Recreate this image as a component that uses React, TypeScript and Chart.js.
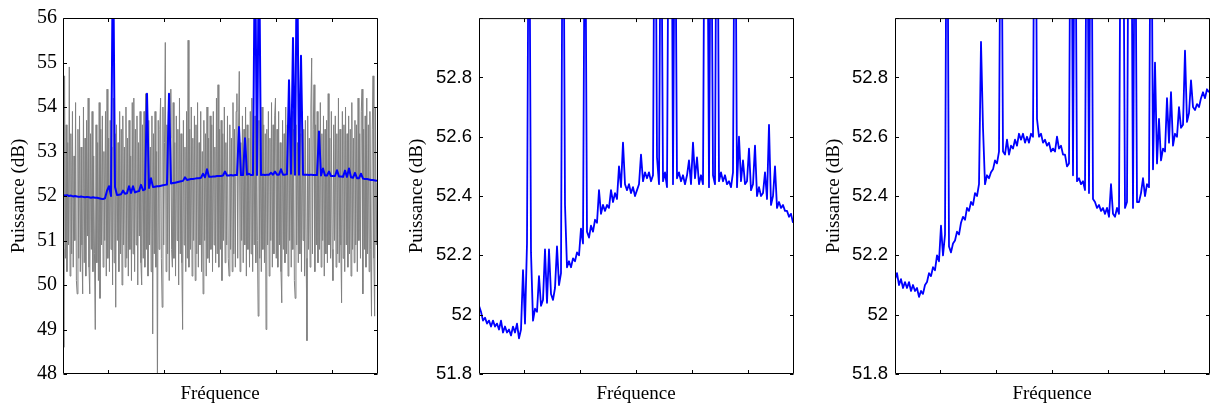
import React, { useEffect, useRef } from 'react';
import { Chart, registerables } from 'chart.js';

Chart.register(...registerables);

// Frequency axis (no labels; inward tick marks only)
const X_MIN = 0.2;
const X_MAX = 5.807;
const X_TICKS = [1, 2, 3, 4, 5];

// Panel 1: raw periodogram (gray)
const P1_GRAY = [
  50.8, 48.6, 54.7, 50.6, 53.6, 50.3, 53.2, 50.9, 54.9, 50.2,
  53.4, 50.7, 53.9, 50.4, 52.9, 51.0, 54.1, 50.1, 49.8, 53.5,
  50.6, 53.8, 50.3, 53.1, 50.9, 49.8, 54.0, 50.5, 53.3, 50.2,
  53.7, 51.1, 54.2, 50.4, 49.8, 53.4, 50.8, 53.9, 50.3, 52.9,
  50.7, 49.0, 53.6, 50.5, 53.2, 50.1, 54.1, 49.7, 53.5, 50.9,
  53.8, 50.4, 53.0, 51.0, 53.9, 50.2, 54.4, 50.6, 53.3, 50.3,
  53.7, 50.8, 53.1, 50.0, 54.2, 50.5, 53.4, 49.5, 53.6, 51.0,
  53.2, 50.3, 53.9, 50.7, 53.5, 50.0, 53.8, 50.9, 53.1, 50.4,
  54.0, 50.6, 53.3, 50.2, 53.7, 50.8, 52.9, 50.1, 54.1, 50.7,
  54.2, 50.3, 53.5, 50.9, 53.8, 50.0, 53.2, 51.1, 53.9, 50.5,
  50.0, 53.6, 50.6, 53.9, 50.4, 54.3, 50.8, 53.3, 50.2, 53.7,
  50.9, 53.1, 50.3, 53.8, 48.9, 53.4, 50.7, 53.9, 50.4, 53.0,
  47.5, 53.7, 50.8, 53.5, 54.2, 50.6, 49.5, 54.0, 50.9, 53.2,
  55.45, 50.3, 53.6, 50.7, 53.9, 50.1, 53.3, 54.4, 50.8, 50.4,
  54.1, 50.6, 53.2, 50.2, 53.8, 51.0, 53.5, 50.0, 54.2, 50.7,
  53.4, 50.5, 49.0, 53.7, 50.9, 53.1, 50.3, 53.9, 50.6, 55.5,
  50.4, 53.5, 50.8, 54.0, 50.2, 53.3, 51.0, 53.8, 50.1, 53.6,
  50.7, 54.1, 50.4, 53.2, 50.9, 53.9, 50.3, 53.0, 49.8, 53.7,
  51.0, 53.4, 50.2, 54.0, 50.6, 53.3, 50.5, 53.8, 50.8, 53.6,
  50.3, 53.9, 50.9, 53.1, 50.5, 54.2, 50.7, 54.5, 50.4, 53.5,
  50.8, 53.7, 50.1, 53.4, 51.0, 54.0, 50.5, 53.2, 50.9, 53.8,
  50.6, 50.2, 53.6, 50.8, 53.3, 50.3, 54.1, 50.7, 53.5, 50.4,
  53.9, 54.3, 50.6, 53.4, 54.8, 50.3, 53.2, 51.0, 53.8, 50.5,
  53.5, 50.9, 54.0, 50.2, 53.6, 50.8, 53.3, 50.4, 53.9, 50.7,
  54.2, 50.3, 53.4, 50.9, 53.8, 50.5, 53.5, 51.0, 49.3, 53.7,
  50.6, 53.2, 50.3, 54.0, 50.8, 53.6, 50.5, 53.4, 49.0, 53.5,
  50.9, 53.9, 50.2, 53.3, 51.0, 54.1, 50.4, 53.6, 50.7, 53.8,
  54.2, 50.6, 53.5, 50.4, 53.9, 50.9, 53.2, 50.3, 49.6, 53.7,
  50.8, 53.4, 50.5, 54.0, 50.7, 53.6, 50.2, 53.8, 51.0, 53.3,
  50.4, 53.9, 50.8, 53.5, 50.1, 49.7, 53.6, 50.9, 53.2, 50.5,
  54.2, 50.7, 53.4, 50.3, 53.9, 51.0, 53.5, 50.2, 53.7, 50.6,
  48.75, 53.8, 50.8, 53.3, 50.4, 54.0, 55.1, 50.7, 53.5, 54.5,
  50.3, 53.6, 50.9, 53.9, 50.5, 53.2, 50.8, 54.1, 50.4, 53.4,
  51.0, 53.8, 50.2, 53.5, 50.7, 53.7, 50.5, 54.3, 50.9, 53.3,
  50.6, 53.9, 50.8, 50.1, 53.6, 51.0, 53.8, 50.4, 53.4, 50.7,
  54.2, 50.5, 53.5, 50.9, 49.6, 53.9, 50.6, 53.6, 50.3, 54.0,
  50.9, 53.4, 50.4, 53.8, 50.7, 53.5, 50.2, 54.1, 50.8, 53.3,
  50.5, 53.7, 50.9, 53.6, 50.3, 54.2, 51.0, 53.4, 50.6, 53.9,
  54.4, 49.8, 53.5, 50.8, 53.8, 50.4, 54.2, 50.7, 53.6, 50.3,
  53.9, 50.8, 49.3, 53.5, 54.7, 50.6, 49.3, 54.0, 50.9, 52.3,
];

// Panel 1: averaged spectrum (blue)
const P1_BLUE = [
  52.02, 52.01, 52.02, 52.00, 52.01, 51.99, 52.00, 51.99, 51.98, 51.99,
  51.98, 51.97, 51.98, 51.97, 51.96, 51.97, 51.96, 51.96, 51.95, 51.94,
  51.93, 51.95, 52.12, 52.22, 52.00, 58.00, 52.20, 52.02, 52.03, 52.04,
  52.12, 52.05, 52.06, 52.22, 52.07, 52.22, 52.08, 52.10, 52.11, 52.25,
  52.13, 52.15, 54.30, 52.18, 52.40, 52.20, 52.21, 52.22, 52.22, 52.23,
  52.24, 52.25, 52.26, 54.30, 52.28, 52.29, 52.30, 52.31, 52.32, 52.33,
  52.34, 52.42, 52.36, 52.37, 52.38, 52.38, 52.39, 52.40, 52.40, 52.41,
  52.50, 52.42, 52.60, 52.43, 52.43, 52.44, 52.44, 52.45, 52.45, 52.45,
  52.46, 52.55, 52.46, 52.46, 52.47, 52.46, 52.47, 52.47, 53.55, 52.47,
  52.47, 53.30, 52.48, 52.50, 52.47, 52.47, 58.00, 52.47, 58.00, 52.47,
  52.48, 52.47, 52.48, 52.48, 52.52, 52.48, 52.55, 52.48, 52.48, 52.60,
  52.48, 52.48, 52.49, 54.60, 52.50, 55.55, 52.48, 58.00, 52.48, 55.15,
  52.48, 52.48, 52.48, 52.47, 52.48, 52.47, 52.47, 52.47, 53.45, 52.46,
  52.62, 52.46, 52.46, 52.55, 52.45, 52.45, 52.45, 52.58, 52.44, 52.44,
  52.43, 52.57, 52.43, 52.62, 52.42, 52.41, 52.52, 52.40, 52.40, 52.50,
  52.39, 52.38, 52.38, 52.37, 52.36, 52.36, 52.35, 52.34,
];

// Panel 2: averaged spectrum, first estimate
const P2_BLUE = [
  52.03, 52.01, 51.98, 51.99, 51.97, 51.98, 51.96, 51.98, 51.96, 51.97,
  51.95, 51.98, 51.94, 51.96, 51.94, 51.95, 51.93, 51.96, 51.94, 51.97,
  51.92, 51.95, 52.15, 51.97, 52.24, 53.70, 52.21, 51.98, 52.02, 52.01,
  52.13, 52.03, 52.05, 52.22, 52.04, 52.22, 52.07, 52.05, 52.09, 52.23,
  52.10, 52.14, 53.80, 52.37, 52.16, 52.18, 52.16, 52.19, 52.18, 52.21,
  52.20, 52.29, 52.24, 53.60, 52.28, 52.26, 52.30, 52.28, 52.32, 52.31,
  52.42, 52.34, 52.37, 52.35, 52.37, 52.36, 52.42, 52.38, 52.41, 52.39,
  52.50, 52.43, 52.58, 52.44, 52.42, 52.44, 52.41, 52.43, 52.40, 52.42,
  52.44, 52.54, 52.45, 52.48, 52.46, 52.48, 52.45, 52.47, 53.80, 52.53,
  52.44, 53.60, 52.45, 52.48, 52.43, 53.70, 54.00, 52.44, 53.60, 52.46,
  52.48, 52.45, 52.47, 52.44, 52.47, 52.52, 52.44, 52.58, 52.46, 52.53,
  52.44, 52.47, 52.44, 53.80, 53.70, 52.43, 53.60, 52.47, 52.44, 53.90,
  52.45, 52.48, 52.45, 52.47, 52.44, 52.45, 52.43, 52.48, 53.70, 52.43,
  52.60, 52.45, 52.52, 52.44, 52.45, 52.56, 52.42, 52.44, 52.57, 52.40,
  52.43, 52.40, 52.41, 52.48, 52.39, 52.64, 52.37, 52.40, 52.50, 52.36,
  52.38, 52.36, 52.37, 52.35, 52.35, 52.33, 52.34, 52.31,
];

// Panel 3: averaged spectrum, second estimate
const P3_BLUE = [
  52.12, 52.14, 52.10, 52.12, 52.09, 52.11, 52.09, 52.11, 52.08, 52.10,
  52.08, 52.09, 52.06, 52.08, 52.07, 52.10, 52.11, 52.14, 52.13, 52.16,
  52.15, 52.20, 52.18, 52.30, 52.20, 52.27, 53.80, 52.23, 52.21, 52.24,
  52.25, 52.28, 52.27, 52.31, 52.33, 52.32, 52.36, 52.35, 52.38, 52.37,
  52.41, 52.40, 52.44, 52.92, 52.63, 52.44, 52.47, 52.46, 52.48, 52.49,
  52.52, 52.51, 52.55, 53.70, 52.55, 52.54, 52.59, 52.54, 52.57, 52.56,
  52.59, 52.57, 52.61, 52.59, 52.61, 52.58, 52.60, 52.58, 52.61, 52.60,
  53.90, 52.66, 52.60, 52.61, 52.58, 52.59, 52.57, 52.58, 52.55, 52.56,
  52.55, 52.60, 52.56, 52.57, 52.54, 52.54, 52.50, 52.51, 53.80, 52.47,
  53.70, 52.45, 52.46, 52.44, 52.45, 52.42, 53.70, 52.41, 53.80, 52.39,
  52.38, 52.36, 52.37, 52.35, 52.36, 52.34, 52.36, 52.33, 52.44, 52.34,
  52.33, 52.36, 52.34, 53.70, 53.60, 52.36, 52.38, 53.80, 53.70, 52.36,
  53.60, 52.38, 52.38, 52.41, 52.46, 52.40, 52.44, 52.43, 53.70, 52.49,
  52.85, 52.51, 52.66, 52.52, 52.56, 52.55, 52.73, 52.58, 52.75, 52.57,
  52.61, 52.60, 52.70, 52.63, 52.64, 52.89, 52.65, 52.68, 52.79, 52.70,
  52.69, 52.71, 52.70, 52.73, 52.75, 52.73, 52.76, 52.75,
];

const X_TITLE = 'Fréquence';
const Y_TITLE = 'Puissance (dB)';

const SERIF = "'Liberation Serif', 'Times New Roman', serif";
const SANS = "'Liberation Sans', Arial, sans-serif";
const BLUE = '#0000ff';
const GRAY = '#808080';

const H = 405;

type PanelDef = {
  left: number;
  width: number;
  axisW: number;
  yMin: number;
  yMax: number;
  yStep: number;
  tickFamily: string;
  tickSize: number;
  tickPad: number;
  titlePad: number;
  series: { data: number[]; color: string; width: number }[];
};

const PANELS: PanelDef[] = [
  {
    left: 0, width: 378, axisW: 63, yMin: 48, yMax: 56, yStep: 1,
    tickFamily: SERIF, tickSize: 20, tickPad: 6, titlePad: 10,
    series: [
      { data: P1_BLUE, color: BLUE, width: 2 },
      { data: P1_GRAY, color: GRAY, width: 1 },
    ],
  },
  {
    left: 395, width: 399, axisW: 84, yMin: 51.8, yMax: 53, yStep: 0.2,
    tickFamily: SANS, tickSize: 18.5, tickPad: 7, titlePad: 13,
    series: [{ data: P2_BLUE, color: BLUE, width: 1.8 }],
  },
  {
    left: 811, width: 399, axisW: 84, yMin: 51.8, yMax: 53, yStep: 0.2,
    tickFamily: SANS, tickSize: 18.5, tickPad: 7, titlePad: 13.5,
    series: [{ data: P3_BLUE, color: BLUE, width: 1.8 }],
  },
];

const toPoints = (arr: number[]) =>
  arr.map((y, i) => ({ x: X_MIN + (i * (X_MAX - X_MIN)) / (arr.length - 1), y }));

const TICK_LEN = 3.5;

const boxPlugin = {
  id: 'matlabBox',
  afterDraw(chart: any) {
    const { ctx, chartArea: a, scales } = chart;
    const xs = scales.x;
    const ys = scales.y;
    const L = a.left + 0.5;
    const R = a.right + 0.5;
    const T = a.top + 0.5;
    const B = a.bottom - 0.5;
    ctx.save();
    ctx.strokeStyle = '#000';
    ctx.lineWidth = 1;
    ctx.beginPath();
    ctx.rect(L, T, R - L, B - T);
    xs.ticks.forEach((t: any) => {
      const px = Math.round(xs.getPixelForValue(t.value)) + 0.5;
      ctx.moveTo(px, B);
      ctx.lineTo(px, B - TICK_LEN);
      ctx.moveTo(px, T);
      ctx.lineTo(px, T + TICK_LEN);
    });
    ys.ticks.forEach((t: any) => {
      const py = Math.round(ys.getPixelForValue(t.value)) + 0.5;
      ctx.moveTo(L, py);
      ctx.lineTo(L + TICK_LEN, py);
      ctx.moveTo(R, py);
      ctx.lineTo(R - TICK_LEN, py);
    });
    ctx.stroke();
    ctx.restore();
  },
};

function buildConfig(p: PanelDef): any {
  return {
    type: 'line',
    data: {
      datasets: p.series.map((s, k) => ({
        data: toPoints(s.data),
        borderColor: s.color,
        borderWidth: s.width,
        pointRadius: 0,
        tension: 0,
        fill: false,
        borderJoinStyle: 'round',
        clip: 0,
        order: k,
      })),
    },
    options: {
      responsive: false,
      animation: false,
      devicePixelRatio: 1,
      events: [],
      layout: { padding: { top: 14, right: 1, bottom: 0, left: 0 } },
      plugins: {
        legend: { display: false },
        tooltip: { enabled: false },
        title: { display: false },
      },
      scales: {
        x: {
          type: 'linear',
          min: X_MIN,
          max: X_MAX,
          grid: { display: false, drawTicks: false },
          border: { display: false },
          ticks: { display: false },
          afterBuildTicks: (s: any) => {
            s.ticks = X_TICKS.map((v) => ({ value: v }));
          },
          afterFit: (s: any) => {
            s.height = 31;
          },
          title: {
            display: true,
            text: X_TITLE,
            color: '#000',
            font: { family: SERIF, size: 19, lineHeight: 1 },
            padding: { top: 0, bottom: 1 },
          },
        },
        y: {
          type: 'linear',
          min: p.yMin,
          max: p.yMax,
          grid: { display: false, drawTicks: false },
          border: { display: false },
          ticks: {
            stepSize: p.yStep,
            color: '#000',
            padding: p.tickPad,
            font: { family: p.tickFamily, size: p.tickSize },
            callback: (v: any) => {
              const n = Number(v);
              if (p.yStep < 1 && n > p.yMax - 1e-6) return '';
              return String(Number(n.toFixed(1)));
            },
          },
          afterFit: (s: any) => {
            s.width = p.axisW;
          },
          title: {
            display: true,
            text: Y_TITLE,
            color: '#000',
            font: { family: SERIF, size: 19, lineHeight: 1 },
            padding: { top: p.titlePad, bottom: 0 },
          },
        },
      },
    },
    plugins: [boxPlugin],
  };
}

export default function App() {
  const r0 = useRef<HTMLCanvasElement>(null);
  const r1 = useRef<HTMLCanvasElement>(null);
  const r2 = useRef<HTMLCanvasElement>(null);
  const refs = [r0, r1, r2];

  useEffect(() => {
    const charts = PANELS.map((p, k) => new Chart(refs[k].current as HTMLCanvasElement, buildConfig(p)));
    return () => charts.forEach((c) => c.destroy());
  }, []);

  return (
    <div
      style={{
        position: 'absolute',
        left: 0,
        top: 0,
        width: 1210,
        height: H,
        background: '#fff',
        overflow: 'hidden',
      }}
    >
      {PANELS.map((p, k) => (
        <canvas
          key={k}
          ref={refs[k]}
          width={p.width}
          height={H}
          style={{ position: 'absolute', left: p.left, top: 0, width: p.width, height: H }}
        />
      ))}
    </div>
  );
}
